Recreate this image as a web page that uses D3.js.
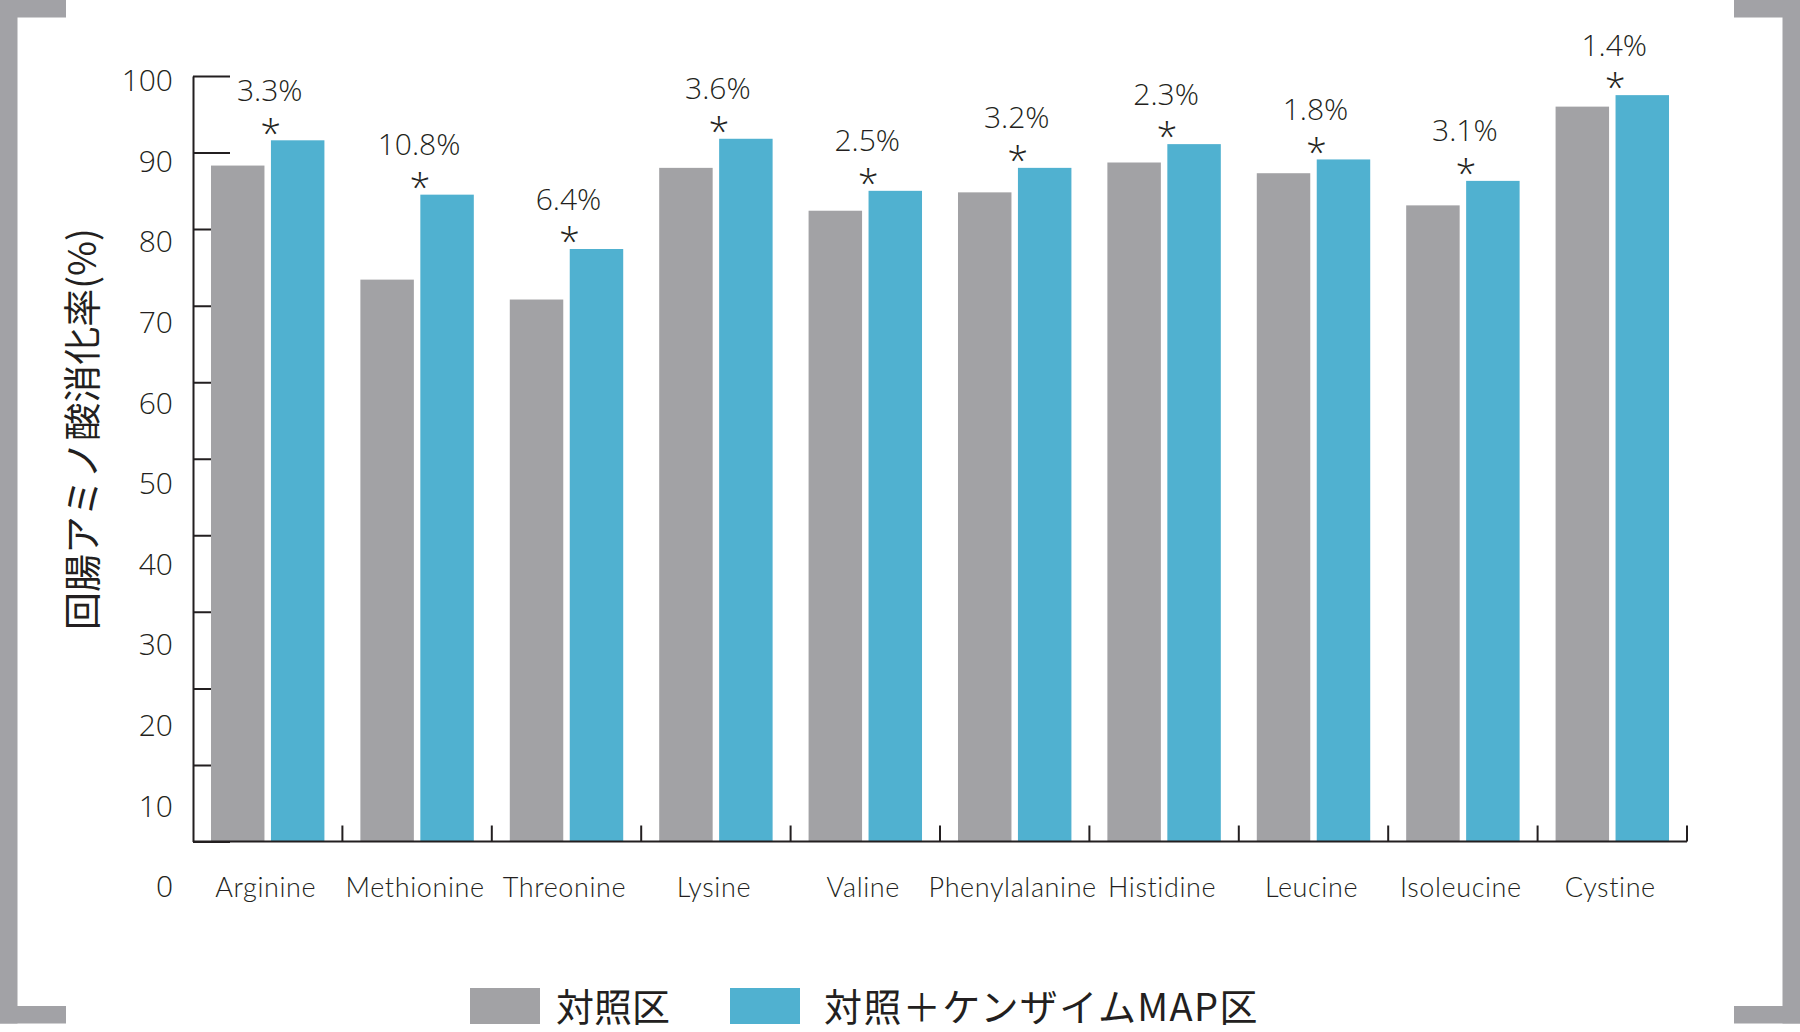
<!DOCTYPE html>
<html>
<head>
<meta charset="utf-8">
<script src="https://cdnjs.cloudflare.com/ajax/libs/d3/7.8.5/d3.min.js"></script>
<style>
	html, body { margin: 0; padding: 0; background: #fff; }
	svg { display: block; }
	.tick-label { font-family: 'Open Sans', sans-serif; font-weight: 300; fill: #231f20; }
	.star { font-family: 'Open Sans', sans-serif; font-weight: 300; fill: #231f20; }
	.category-label { font-family: Lato, sans-serif; font-weight: 300; fill: #231f20; }
	.jp { font-family: 'Noto Sans CJK JP', sans-serif; fill: #231f20; }
</style>
</head>
<body>
<div id="chart"></div>
<script>
(function () {
	'use strict';

	var categories = ['Arginine', 'Methionine', 'Threonine', 'Lysine', 'Valine',
		'Phenylalanine', 'Histidine', 'Leucine', 'Isoleucine', 'Cystine'];
	var controlValues = [88.3, 73.4, 70.8, 88.0, 82.4, 84.8, 88.7, 87.3, 83.1, 96.0];
	var mapValues = [91.6, 84.5, 77.4, 91.8, 85.0, 88.0, 91.1, 89.1, 86.3, 97.5];
	var improvements = ['3.3%', '10.8%', '6.4%', '3.6%', '2.5%', '3.2%', '2.3%', '1.8%', '3.1%', '1.4%'];
	var yTicks = [0, 10, 20, 30, 40, 50, 60, 70, 80, 90, 100];
	var seriesNames = ['対照区', '対照＋ケンザイムMAP区'];
	var yTitle = '回腸アミノ酸消化率(%)';

	var width = 1800, height = 1032;
	var colors = { control: '#a2a2a5', map: '#50b1d0', ink: '#231f20', frame: '#a2a2a6' };

	var svg = d3.select('#chart').append('svg')
		.attr('width', width)
		.attr('height', height);

	var x = d3.scaleBand()
		.domain(categories)
		.range([193, 1687])
		.paddingInner(0)
		.paddingOuter(0);

	var xInner = d3.scaleBand()
		.domain(['control', 'map'])
		.range([0, x.bandwidth()])
		.paddingInner(0.108)
		.paddingOuter(0.3);

	var y = d3.scaleLinear()
		.domain([0, 100])
		.range([841.5, 76]);

	// labels on the left sit on their own spacing, a bit below the tick marks
	var yLabel = d3.scaleLinear()
		.domain([0, 100])
		.range([887, 81]);

	var rows = categories.map(function (name, i) {
		return { name: name, control: controlValues[i], map: mapValues[i], gain: improvements[i] };
	});

	renderFrame();

	// tick marks (bars are drawn over them)
	svg.append('g')
		.attr('transform', 'translate(193,0)')
		.call(d3.axisRight(y).tickValues(yTicks).tickSize(37).tickSizeOuter(0).tickFormat(''))
		.call(function (g) {
			g.selectAll('line, path').attr('stroke', colors.ink).attr('stroke-width', 2);
		});

	svg.append('g')
		.attr('transform', 'translate(173,0)')
		.call(d3.axisLeft(yLabel).tickValues(yTicks).tickSize(0).tickPadding(0))
		.call(function (g) {
			g.select('.domain').remove();
			g.selectAll('text')
				.classed('tick-label', true)
				.attr('font-size', 30)
				.attr('fill', colors.ink);
		});

	var groups = svg.append('g')
		.selectAll('g')
		.data(rows)
		.enter()
		.append('g')
		.attr('transform', function (d) { return 'translate(' + x(d.name) + ',0)'; });

	groups.selectAll('rect')
		.data(function (d) {
			return [{ key: 'control', value: d.control }, { key: 'map', value: d.map }];
		})
		.enter()
		.append('rect')
		.attr('x', function (d) { return xInner(d.key); })
		.attr('y', function (d) { return y(d.value); })
		.attr('width', xInner.bandwidth())
		.attr('height', function (d) { return y(0) - y(d.value); })
		.attr('fill', function (d) { return colors[d.key]; });

	groups.append('text')
		.classed('tick-label', true)
		.attr('x', x.bandwidth() / 2 + 2)
		.attr('y', function (d) { return y(d.map) - 50; })
		.attr('dy', '0.35em')
		.attr('text-anchor', 'middle')
		.attr('font-size', 30)
		.text(function (d) { return d.gain; });

	groups.append('text')
		.classed('star', true)
		.attr('x', x.bandwidth() / 2 + 3)
		.attr('y', function (d) { return y(d.map) - 15; })
		.attr('dy', '0.56em')
		.attr('text-anchor', 'middle')
		.attr('font-size', 38)
		.text('*');

	renderXAxis();

	svg.append('text')
		.classed('jp', true)
		.attr('transform', 'translate(82,429) rotate(-90)')
		.attr('text-anchor', 'middle')
		.attr('dy', '0.36em')
		.attr('font-size', 38)
		.text(yTitle);

	renderLegend();

	function renderXAxis() {
		var axis = svg.append('g');

		axis.append('line')
			.attr('x1', x.range()[0])
			.attr('x2', x.range()[1])
			.attr('y1', y(0))
			.attr('y2', y(0))
			.attr('stroke', colors.ink)
			.attr('stroke-width', 2);

		axis.selectAll('.cat-tick')
			.data(categories)
			.enter()
			.append('line')
			.classed('cat-tick', true)
			.attr('x1', function (d) { return x(d) + x.bandwidth(); })
			.attr('x2', function (d) { return x(d) + x.bandwidth(); })
			.attr('y1', y(0))
			.attr('y2', y(0) - 16)
			.attr('stroke', colors.ink)
			.attr('stroke-width', 2);

		axis.selectAll('.category-label')
			.data(categories)
			.enter()
			.append('text')
			.classed('category-label', true)
			.attr('x', function (d) { return x(d) + x.bandwidth() / 2 - 2; })
			.attr('y', 888)
			.attr('dy', '0.35em')
			.attr('text-anchor', 'middle')
			.attr('font-size', 27)
			.attr('letter-spacing', 0.6)
			.text(function (d) { return d; });
	}

	function renderLegend() {
		var items = [
			{ name: seriesNames[0], color: colors.control, x: 470 },
			{ name: seriesNames[1], color: colors.map, x: 730 }
		];

		var legend = svg.append('g')
			.selectAll('g')
			.data(items)
			.enter()
			.append('g')
			.attr('transform', function (d) { return 'translate(' + d.x + ',988)'; });

		legend.append('rect')
			.attr('width', 70)
			.attr('height', 36)
			.attr('fill', function (d) { return d.color; });

		legend.append('text')
			.classed('jp', true)
			.attr('x', function (d, i) { return i ? 94 : 86; })
			.attr('y', 19)
			.attr('dy', '0.36em')
			.attr('font-size', 38)
			.attr('letter-spacing', function (d, i) { return i ? 1.4 : 0; })
			.text(function (d) { return d.name; });
	}

	function renderFrame() {
		var frame = svg.append('g').attr('fill', colors.frame);
		var t = 17.5, arm = 66, bottom = 1023.5;

		// left bracket
		frame.append('rect').attr('x', 0).attr('y', 0).attr('width', t).attr('height', bottom);
		frame.append('rect').attr('x', 0).attr('y', 0).attr('width', arm).attr('height', t);
		frame.append('rect').attr('x', 0).attr('y', bottom - t).attr('width', arm).attr('height', t);

		// right bracket
		frame.append('rect').attr('x', width - t).attr('y', 0).attr('width', t).attr('height', bottom);
		frame.append('rect').attr('x', width - arm).attr('y', 0).attr('width', arm).attr('height', t);
		frame.append('rect').attr('x', width - arm).attr('y', bottom - t).attr('width', arm).attr('height', t);
	}
}());
</script>
</body>
</html>
